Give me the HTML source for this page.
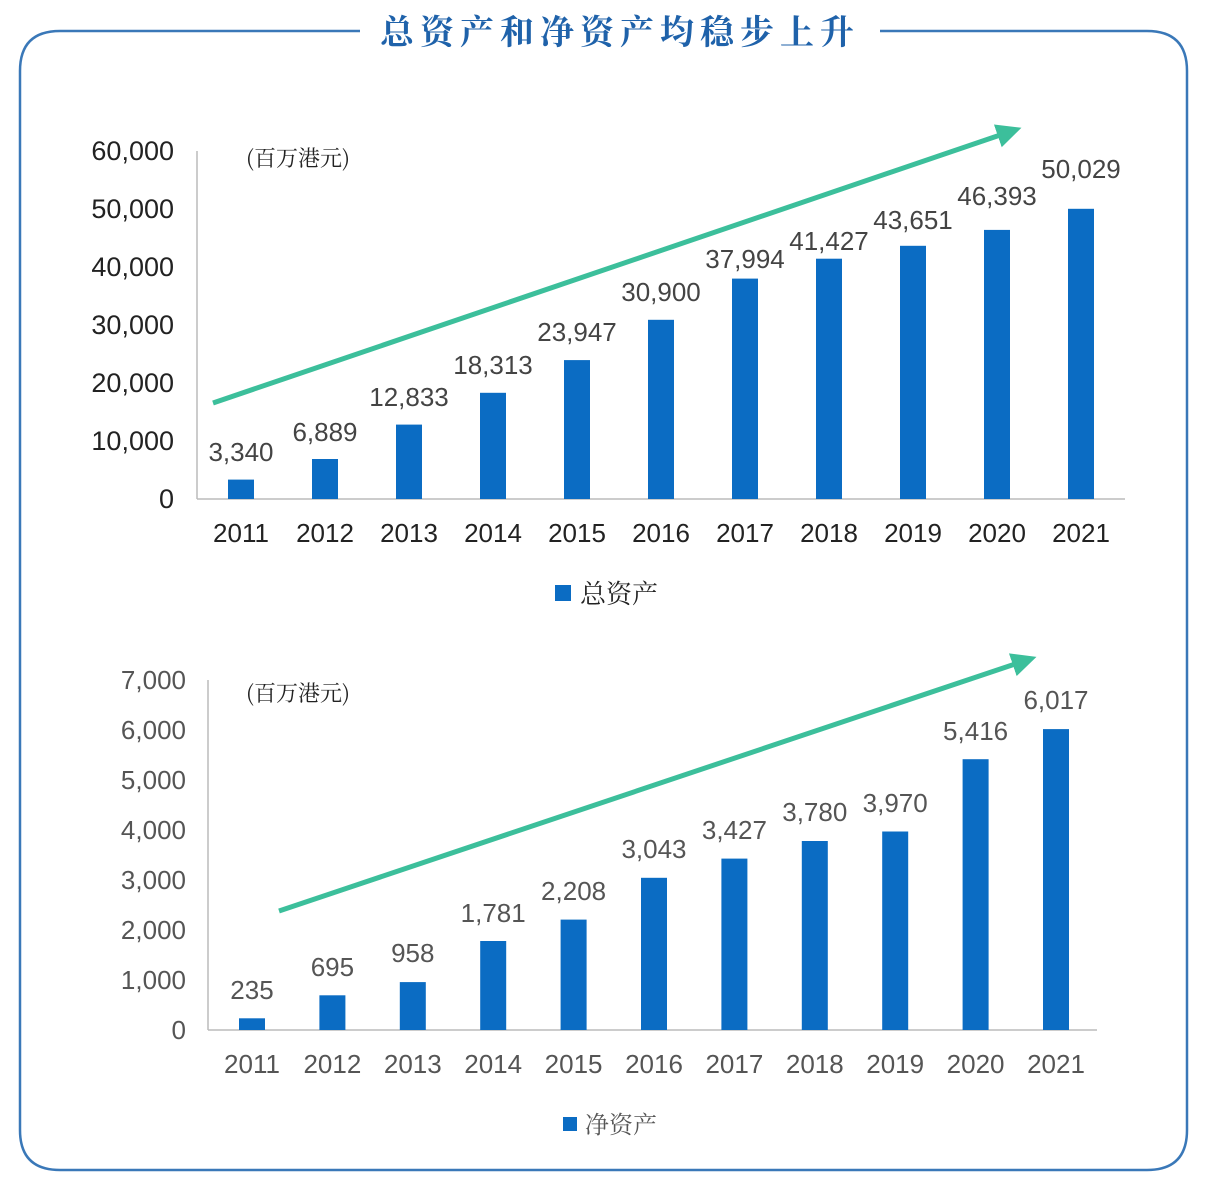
<!DOCTYPE html>
<html><head><meta charset="utf-8"><style>
html,body{margin:0;padding:0;background:#fff;}
svg{display:block;}
text{font-family:"Liberation Sans","Noto Sans CJK SC",sans-serif;}
.cj{font-family:"Noto Serif CJK SC","Noto Sans CJK SC",serif;}
</style></head><body>
<svg width="1207" height="1188" viewBox="0 0 1207 1188">
<defs>
<marker id="ah" markerWidth="6" markerHeight="6" refX="3" refY="3" orient="auto" markerUnits="strokeWidth">
<path d="M0,0.6 L5,3 L0,5.4 Z" fill="#3cbf9b"/></marker>
</defs>
<path d="M360,31 L60,31 Q20,31 20,71 L20,1130 Q20,1170 60,1170 L1147,1170 Q1187,1170 1187,1130 L1187,71 Q1187,31 1147,31 L880,31" fill="none" stroke="#3a78b8" stroke-width="2.5"/>
<text x="620" y="44" text-anchor="middle" class="cj" font-size="34" font-weight="bold" fill="#1f62aa" letter-spacing="6">总资产和净资产均稳步上升</text>

<g font-size="25" fill="#222">
<line x1="197" y1="151" x2="197" y2="499" stroke="#bbb" stroke-width="1.5"/>
<line x1="197" y1="499" x2="1125" y2="499" stroke="#bbb" stroke-width="1.5"/>
<g text-anchor="end" font-size="27">
<text x="174" y="160">60,000</text><text x="174" y="218">50,000</text><text x="174" y="276">40,000</text>
<text x="174" y="334">30,000</text><text x="174" y="392">20,000</text><text x="174" y="450">10,000</text><text x="174" y="508">0</text>
</g>
<text x="246" y="166" class="cj" font-size="22">(百万港元)</text>
<g fill="#0b6cc3">
<rect x="228" y="479.6" width="26" height="19.4"/><rect x="312" y="459" width="26" height="40"/>
<rect x="396" y="424.6" width="26" height="74.4"/><rect x="480" y="392.8" width="26" height="106.2"/>
<rect x="564" y="360.1" width="26" height="138.9"/><rect x="648" y="319.8" width="26" height="179.2"/>
<rect x="732" y="278.6" width="26" height="220.4"/><rect x="816" y="258.7" width="26" height="240.3"/>
<rect x="900" y="245.8" width="26" height="253.2"/><rect x="984" y="229.9" width="26" height="269.1"/>
<rect x="1068" y="208.8" width="26" height="290.2"/>
</g>
<g text-anchor="middle" fill="#444" font-size="26">
<text x="241" y="461">3,340</text><text x="325" y="441">6,889</text><text x="409" y="406">12,833</text>
<text x="493" y="374">18,313</text><text x="577" y="341">23,947</text><text x="661" y="301">30,900</text>
<text x="745" y="268">37,994</text><text x="829" y="250">41,427</text><text x="913" y="229">43,651</text>
<text x="997" y="205">46,393</text><text x="1081" y="178">50,029</text>
</g>
<g text-anchor="middle" font-size="26">
<text x="241" y="542">2011</text><text x="325" y="542">2012</text><text x="409" y="542">2013</text><text x="493" y="542">2014</text>
<text x="577" y="542">2015</text><text x="661" y="542">2016</text><text x="745" y="542">2017</text><text x="829" y="542">2018</text>
<text x="913" y="542">2019</text><text x="997" y="542">2020</text><text x="1081" y="542">2021</text>
</g>
<rect x="555" y="585" width="16" height="16" fill="#0b6cc3"/>
<text x="580" y="603" class="cj" font-size="26">总资产</text>
</g>
<line x1="213" y1="403" x2="1012" y2="131" stroke="#3cbf9b" stroke-width="5" marker-end="url(#ah)"/>

<g font-size="26" fill="#555">
<line x1="208" y1="680" x2="208" y2="1030" stroke="#bbb" stroke-width="1.5"/>
<line x1="208" y1="1030" x2="1097" y2="1030" stroke="#bbb" stroke-width="1.5"/>
<g text-anchor="end">
<text x="186" y="689">7,000</text><text x="186" y="739">6,000</text><text x="186" y="789">5,000</text><text x="186" y="839">4,000</text>
<text x="186" y="889">3,000</text><text x="186" y="939">2,000</text><text x="186" y="989">1,000</text><text x="186" y="1039">0</text>
</g>
<text x="246" y="701" class="cj" font-size="22" fill="#222">(百万港元)</text>
<g fill="#0b6cc3">
<rect x="239" y="1018.3" width="26" height="11.7"/><rect x="319.4" y="995.3" width="26" height="34.7"/>
<rect x="399.8" y="982.1" width="26" height="47.9"/><rect x="480.2" y="941" width="26" height="89"/>
<rect x="560.6" y="919.6" width="26" height="110.4"/><rect x="641" y="877.8" width="26" height="152.2"/>
<rect x="721.4" y="858.6" width="26" height="171.4"/><rect x="801.8" y="841" width="26" height="189"/>
<rect x="882.2" y="831.5" width="26" height="198.5"/><rect x="962.6" y="759.2" width="26" height="270.8"/>
<rect x="1043" y="729.1" width="26" height="300.9"/>
</g>
<g text-anchor="middle">
<text x="252" y="999">235</text><text x="332.4" y="976">695</text><text x="412.8" y="962">958</text>
<text x="493.2" y="922">1,781</text><text x="573.6" y="900">2,208</text><text x="654" y="858">3,043</text>
<text x="734.4" y="839">3,427</text><text x="814.8" y="821">3,780</text><text x="895.2" y="812">3,970</text>
<text x="975.6" y="740">5,416</text><text x="1056" y="709">6,017</text>
</g>
<g text-anchor="middle">
<text x="252" y="1073">2011</text><text x="332.4" y="1073">2012</text><text x="412.8" y="1073">2013</text><text x="493.2" y="1073">2014</text>
<text x="573.6" y="1073">2015</text><text x="654" y="1073">2016</text><text x="734.4" y="1073">2017</text><text x="814.8" y="1073">2018</text>
<text x="895.2" y="1073">2019</text><text x="975.6" y="1073">2020</text><text x="1056" y="1073">2021</text>
</g>
<rect x="563" y="1117" width="14" height="14" fill="#0b6cc3"/>
<text x="585" y="1133" class="cj" font-size="24">净资产</text>
</g>
<line x1="279" y1="911" x2="1027" y2="660" stroke="#3cbf9b" stroke-width="5" marker-end="url(#ah)"/>
</svg>
</body></html>
